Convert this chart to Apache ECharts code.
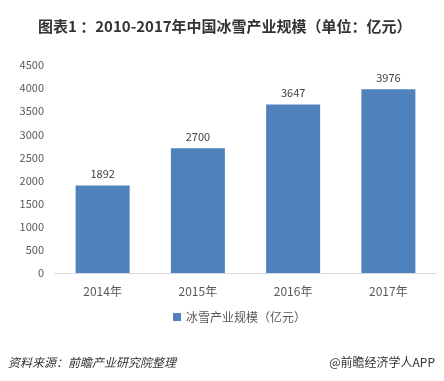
<!DOCTYPE html>
<html><head><meta charset="utf-8">
<script src="https://cdn.jsdelivr.net/npm/echarts@6/dist/echarts.min.js"></script>
<style>html,body{margin:0;padding:0;background:#fff}#c{width:444px;height:381px}</style>
</head><body><div id="c"></div>
<script>
const categories = ['2014年','2015年','2016年','2017年'];
const values = [1892, 2700, 3647, 3976];
const seriesName = '冰雪产业规模（亿元）';
const titleText = '图表1 ：2010-2017年中国冰雪产业规模（单位：亿元）';
const sourceText = '资料来源：前瞻产业研究院整理';
const brandText = '@前瞻经济学人APP';

const chart = echarts.init(document.getElementById('c'));
const font = '"Microsoft YaHei","Noto Sans CJK SC",sans-serif';
chart.setOption({
  backgroundColor: '#fff',
  animation: false,
  title: {
    text: titleText, left: 33, top: 14,
    textStyle: {fontSize: 15, fontWeight: 'bold', color: '#333', fontFamily: font}
  },
  grid: {left: 55, right: 8, top: 65, bottom: 108, containLabel: false},
  legend: {
    data: [seriesName], bottom: 53, left: 168, itemWidth: 8, itemHeight: 8, icon: 'rect', itemGap: 5,
    textStyle: {fontSize: 12, color: '#595959', fontFamily: font}
  },
  xAxis: {
    type: 'category', data: categories,
    axisLine: {lineStyle: {color: '#d9d9d9'}}, axisTick: {show: false},
    axisLabel: {fontSize: 12, color: '#595959', margin: 12, fontFamily: font}
  },
  yAxis: {
    type: 'value', min: 0, max: 4500, interval: 500,
    splitLine: {show: false}, axisLine: {show: false}, axisTick: {show: false},
    axisLabel: {fontSize: 11, color: '#595959', margin: 11, fontFamily: font, formatter: v => String(v)}
  },
  series: [{
    name: seriesName, type: 'bar', data: values, barWidth: 54,
    itemStyle: {color: '#4f81bd'},
    label: {show: true, position: 'top', fontSize: 11, color: '#404040', distance: 6, fontFamily: font}
  }],
  graphic: [
    {type: 'text', left: 8, top: 356, style: {text: sourceText, font: 'italic 12px ' + font, fill: '#333'}},
    {type: 'text', right: 9, top: 356, style: {text: brandText, font: '12px ' + font, fill: '#333'}}
  ]
});
</script></body></html>
